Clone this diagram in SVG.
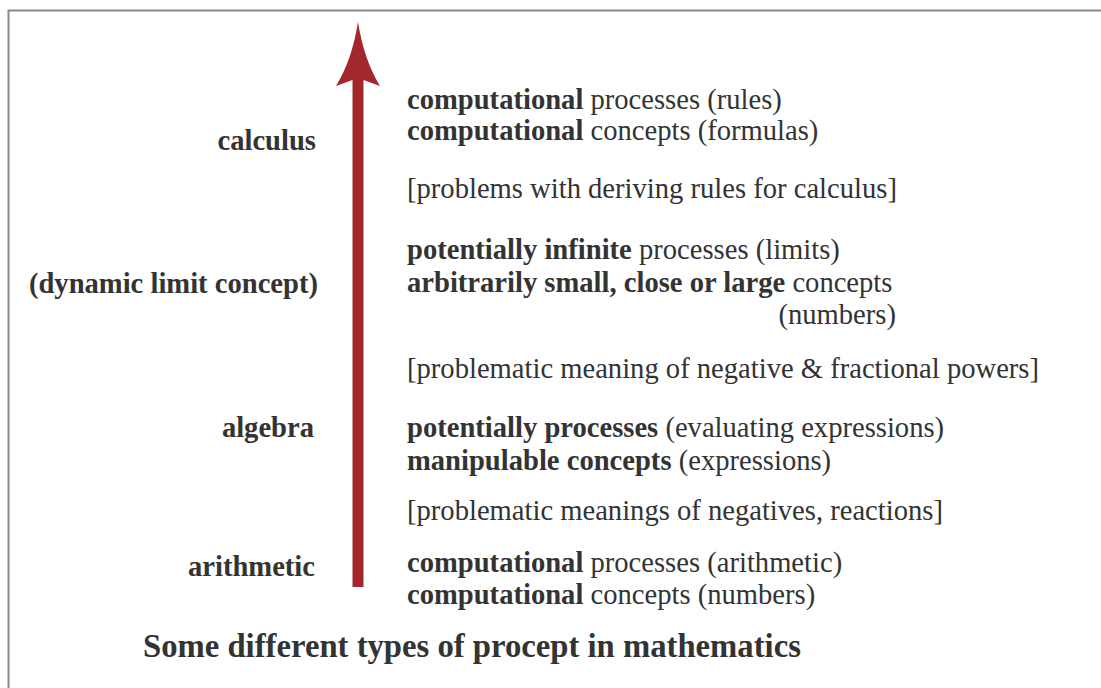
<svg xmlns="http://www.w3.org/2000/svg" width="1101" height="688" viewBox="0 0 1101 688">
<style>
text{font-family:"Liberation Serif","Times New Roman",serif;fill:#333;font-size:28.6px}
.b{font-weight:bold}
.lab{font-weight:bold;text-anchor:end}
.title{font-weight:bold;font-size:32.7px}
</style>
<rect x="0" y="0" width="1101" height="688" fill="#fff"/>
<g id="frame" fill="none" stroke="#8a8a8a" stroke-width="2">
<path d="M8.5 688 V10.5 H1101"/>
</g>
<g id="connectors">
<path d="M352.5 587 V80 L336 86 Q352 60 358 22 Q364 60 380 86 L363.5 80 V587 Z" fill="#a3282e"/>
</g>
<g id="labels">
<text id="calculus" class="lab" x="316" y="150">calculus</text>
<text id="dynamic" class="lab" x="318" y="293">(dynamic limit concept)</text>
<text id="algebra" class="lab" x="314" y="437">algebra</text>
<text id="arithmetic" class="lab" x="315" y="576">arithmetic</text>
</g>
<g id="calculus-desc">
<text x="407" y="109"><tspan class="b">computational</tspan> processes (rules)</text>
<text x="407" y="140"><tspan class="b">computational</tspan> concepts (formulas)</text>
</g>
<g id="calc-problem"><text x="407" y="198">[problems with deriving rules for calculus]</text></g>
<g id="limit-desc">
<text x="407" y="259"><tspan class="b">potentially infinite</tspan> processes (limits)</text>
<text x="407" y="292"><tspan class="b">arbitrarily small, close or large</tspan> concepts</text>
<text x="896" y="324" text-anchor="end">(numbers)</text>
</g>
<g id="limit-problem"><text x="407" y="378">[problematic meaning of negative &amp; fractional powers]</text></g>
<g id="algebra-desc">
<text x="407" y="437"><tspan class="b">potentially processes</tspan> (evaluating expressions)</text>
<text x="407" y="470"><tspan class="b">manipulable concepts</tspan> (expressions)</text>
</g>
<g id="alg-problem"><text x="407" y="520">[problematic meanings of negatives, reactions]</text></g>
<g id="arith-desc">
<text x="407" y="572"><tspan class="b">computational</tspan> processes (arithmetic)</text>
<text x="407" y="604"><tspan class="b">computational</tspan> concepts (numbers)</text>
</g>
<g id="caption"><text class="title" x="143" y="657">Some different types of procept in mathematics</text></g>
</svg>
